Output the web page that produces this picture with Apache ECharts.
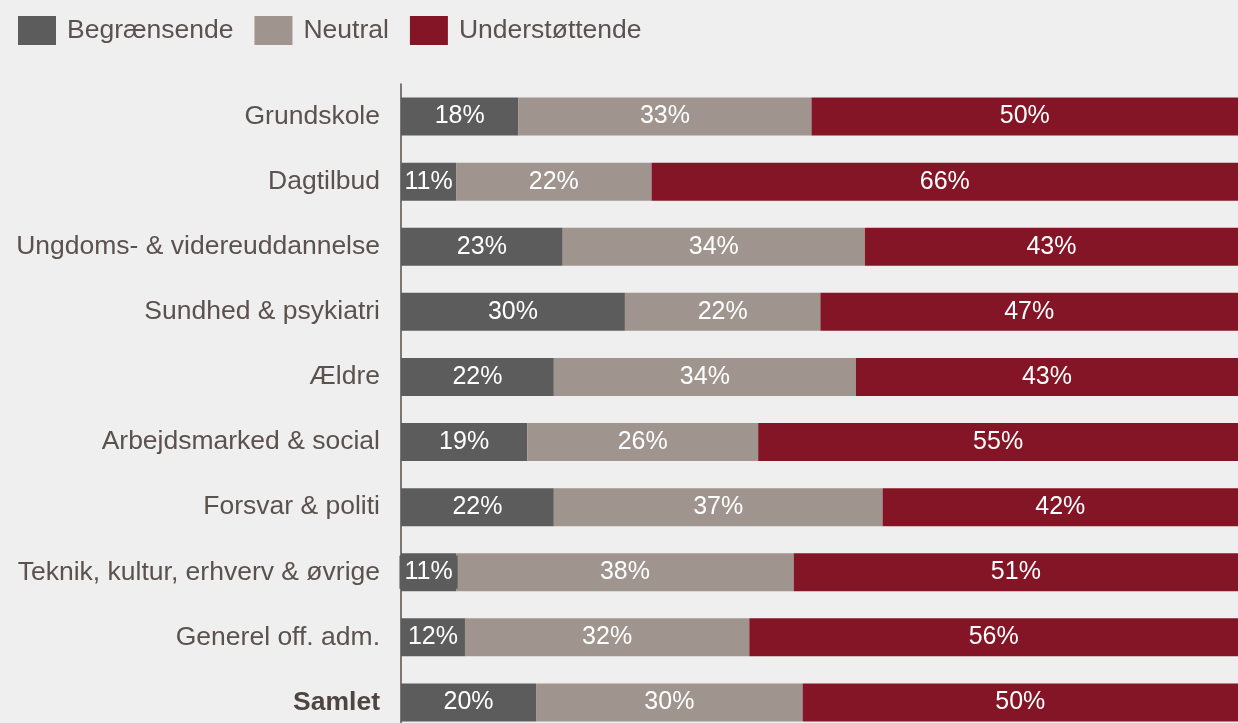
<!DOCTYPE html>
<html>
<head>
<meta charset="utf-8">
<script src="https://cdn.jsdelivr.net/npm/echarts@6/dist/echarts.min.js"></script>
<style>
  html, body { margin: 0; padding: 0; background: #EFEFEF; overflow: hidden; }
  /* the plot runs a little past the bottom edge of the window */
  #chart { width: 1238px; height: 735px; }
</style>
</head>
<body>
<div id="chart"></div>
<script>
// Sector categories, top to bottom
const categories = [
  'Grundskole',
  'Dagtilbud',
  'Ungdoms- & videreuddannelse',
  'Sundhed & psykiatri',
  'Ældre',
  'Arbejdsmarked & social',
  'Forsvar & politi',
  'Teknik, kultur, erhverv & øvrige',
  'Generel off. adm.',
  'Samlet'
];

// Share of answers (%) per sector
const begraensende   = [18, 11, 23, 30, 22, 19, 22, 11, 12, 20];
const neutral        = [33, 22, 34, 22, 34, 26, 37, 38, 32, 30];
const understoettende = [50, 66, 43, 47, 43, 55, 42, 51, 56, 50];

const seriesNames = ['Begrænsende', 'Neutral', 'Understøttende'];

const FONT = '"Liberation Sans", Arial, sans-serif';
const TEXT = '#5B514E';
const COLORS = ['#5C5C5C', '#A0948F', '#841526'];

const chart = echarts.init(document.getElementById('chart'), null, { renderer: 'canvas' });

function makeSeries(name, values, color, idx) {
  return {
    name: name,
    type: 'bar',
    stack: 'total',
    barWidth: 38,
    clip: true,
    itemStyle: { color: color },
    label: {
      show: true,
      position: 'inside',
      formatter: '{c}%',
      color: '#FFFFFF',
      fontSize: 25,
      fontFamily: FONT
    },
    data: values.map((v, i) => {
      // the narrow first segment of this row gets a boxed label
      if (idx === 0 && categories[i].startsWith('Teknik')) {
        return { value: v, label: { backgroundColor: color, padding: [4, 5, 4, 5] } };
      }
      return v;
    })
  };
}

const option = {
  backgroundColor: '#EFEFEF',
  animation: false,
  textStyle: { fontFamily: FONT },
  legend: {
    left: 13,
    top: 11,
    itemWidth: 38,
    itemHeight: 29,
    itemGap: 21,
    icon: 'rect',
    data: seriesNames,
    textStyle: {
      fontSize: 26.5,
      color: TEXT,
      fontFamily: FONT,
      padding: [0, 0, 3, 6]
    }
  },
  grid: {
    left: 401,
    right: 0,
    top: 84,
    bottom: 0,
    containLabel: false
  },
  xAxis: {
    type: 'value',
    min: 4.8,
    max: 99,
    show: false,
    splitLine: { show: false }
  },
  yAxis: {
    type: 'category',
    inverse: true,
    data: categories,
    axisTick: { show: false },
    axisLine: { show: true, lineStyle: { color: '#5A4E4A', width: 1.5 } },
    axisLabel: {
      fontSize: 26.5,
      color: TEXT,
      fontFamily: FONT,
      margin: 21,
      formatter: function (v) {
        return v === 'Samlet' ? '{b|' + v + '}' : v;
      },
      rich: {
        b: { fontWeight: 'bold', fontSize: 26.5, color: '#4F4542', fontFamily: FONT }
      }
    }
  },
  series: [
    makeSeries(seriesNames[0], begraensende, COLORS[0], 0),
    makeSeries(seriesNames[1], neutral, COLORS[1], 1),
    makeSeries(seriesNames[2], understoettende, COLORS[2], 2)
  ]
};

chart.setOption(option);
</script>
</body>
</html>
